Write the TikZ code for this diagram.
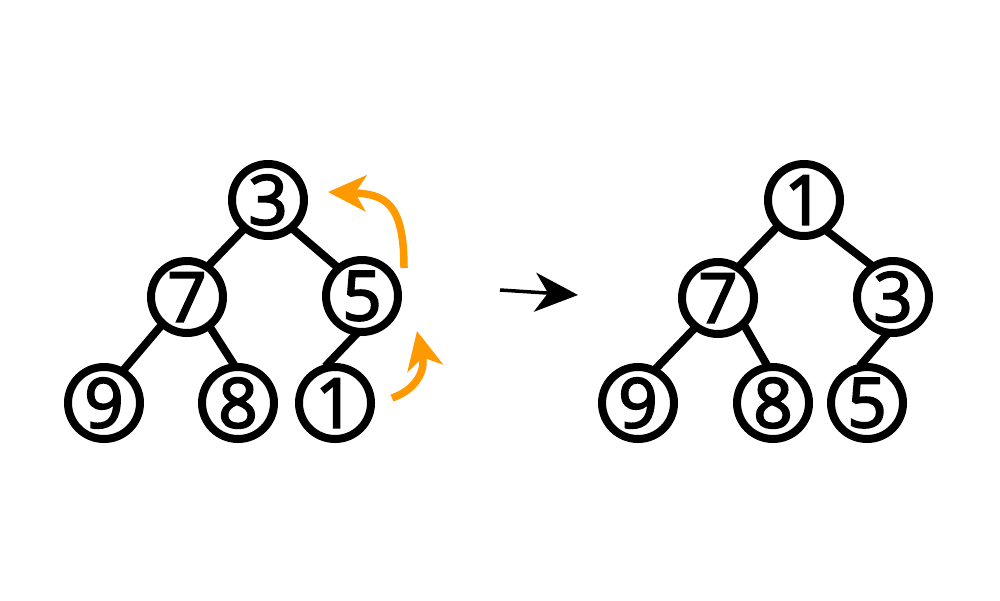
\documentclass[tikz,border=0pt]{standalone}
\usepackage{fontspec}
\setmainfont{Open Sans}
\newfontfamily\keyfont[FakeBold=3]{Open Sans}
\usepackage{xcolor}
\usepackage{tikz}
\usetikzlibrary{arrows.meta}
\definecolor{swaporange}{RGB}{255,153,0}
\tikzset{
  key/.style={draw=black,circle,fill=white,line width=0.8mm,minimum size=7.2mm,
              inner sep=0pt,font=\keyfont\fontsize{19.5}{19.5}\selectfont},
  edge/.style={line width=0.8mm,draw=black,shorten <=-0.4mm,shorten >=-0.4mm},
  swap/.style={-{Stealth[length=3.8mm,width=3.6mm,inset=1.1mm]},line width=0.75mm,draw=swaporange},
  step arrow/.style={-{Stealth[length=4.3mm,width=3.9mm,inset=1.3mm]},line width=0.35mm},
}
\begin{document}
\begin{tikzpicture}[x=1mm,y=1mm]
  \useasboundingbox (0,0) rectangle (100,60);

  % ---------------- left heap: before sift-up ----------------
  \node[key] (a3) at (26.8,40.0) {3};
  \node[key] (a7) at (18.7,30.3) {7};
  \node[key] (a5) at (36.2,30.4) {5};
  \node[key] (a9) at (10.4,19.7) {9};
  \node[key] (a8) at (23.8,19.7) {8};
  \node[key] (a1) at (33.5,19.7) {1};
  \foreach \p/\pa/\c/\ca in {a3/230/a7/55,a3/311/a5/131,a7/228/a9/59,a7/307/a8/97,a5/260/a1/100}
    \draw[edge] (\p.\pa) -- (\c.\ca);

  % swaps: 1 moves up past 5, then past 3
  \coordinate (s1) at (39.2,20.2);
  \coordinate (t1) at (41.7,26.9);
  \draw[swap] (s1) .. controls (41.5,21.0) and (42.6,22.8) .. (t1);
  \coordinate (s2) at (40.4,33.2);
  \coordinate (t2) at (32.8,40.8);
  \draw[swap] (s2) .. controls (40.4,39.6) and (38.6,40.6) .. (t2);

  % ---------------- step arrow ----------------
  \coordinate (m1) at (50.0,31.0);
  \coordinate (m2) at (57.8,30.5);
  \draw[step arrow] (m1) -- (m2);

  % ---------------- right heap: after sift-up ----------------
  \node[key] (b1) at (80.4,40.0) {1};
  \node[key] (b7) at (71.8,30.2) {7};
  \node[key] (b3) at (89.3,30.3) {3};
  \node[key] (b9) at (63.8,19.7) {9};
  \node[key] (b8) at (77.3,19.7) {8};
  \node[key] (b5) at (86.7,19.7) {5};
  \foreach \p/\pa/\c/\ca in {b1/225/b7/56,b1/307/b3/125,b7/232/b9/62,b7/313/b8/100,b3/259/b5/97}
    \draw[edge] (\p.\pa) -- (\c.\ca);
\end{tikzpicture}
\end{document}
